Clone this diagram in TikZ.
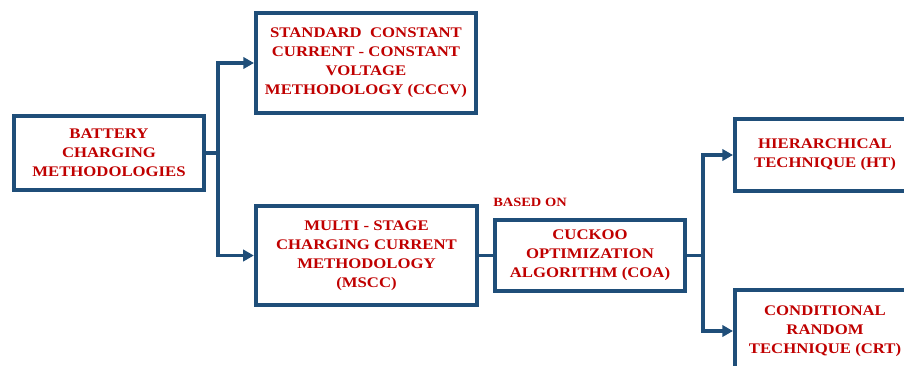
\documentclass[tikz,border=0pt]{standalone}
\usepackage{fontspec}
\setmainfont[FakeStretch=1.14]{Liberation Serif}
\usetikzlibrary{arrows.meta}
\definecolor{boxblue}{HTML}{1F4E79}
\definecolor{textred}{HTML}{C00000}
\begin{document}
\begin{tikzpicture}[x=0.75pt,y=-0.75pt,
    box/.style={draw=boxblue,line width=3pt,fill=white,align=center,inner sep=0pt,
      text=textred,font=\bfseries\fontsize{11}{14.25}\selectfont},
    link/.style={draw=boxblue,line width=2.6pt},
    arr/.style={link,-{Triangle[length=8pt,width=8.5pt]}}]
    \useasboundingbox (0,0) rectangle (904,365);
    \clip (0,0) rectangle (904,365);
    \node[box,minimum width=143pt,minimum height=56pt] (bat) at (109,153) {BATTERY\\CHARGING\\METHODOLOGIES};
    \node[box,minimum width=165pt,minimum height=75pt] (cccv) at (366,63) {STANDARD\ \ CONSTANT\\CURRENT - CONSTANT\\VOLTAGE\\METHODOLOGY (CCCV)};
    \node[box,minimum width=166pt,minimum height=74pt] (mscc) at (366.5,255.5) {MULTI - STAGE\\CHARGING CURRENT\\METHODOLOGY\\(MSCC)};
    \node[box,minimum width=143pt,minimum height=53pt] (coa) at (590,255.5) {CUCKOO\\OPTIMIZATION\\ALGORITHM (COA)};
    \node[box,minimum width=135pt,minimum height=54pt] (ht) at (825,155) {HIERARCHICAL\\TECHNIQUE (HT)};
    \node[box,minimum width=135pt,minimum height=62pt] (crt) at (825,331) {CONDITIONAL\\RANDOM\\TECHNIQUE (CRT)};
    \node[anchor=base west,inner sep=0pt,text=textred,font=\bfseries\fontsize{9.5}{11}\selectfont] (based) at (493,206) {BASED ON};
    \coordinate (split1) at (218,153);
    \coordinate (split2) at (703,255.5);
    \draw[link] (bat.east) -- (split1);
    \draw[arr] (split1) |- (cccv.west);
    \draw[arr] (split1) |- (mscc.west);
    \draw[link] (mscc.east) -- (coa.west);
    \draw[link] (coa.east) -- (split2);
    \draw[arr] (split2) |- (ht.west);
    \draw[arr] (split2) |- (crt.west);
\end{tikzpicture}
\end{document}
